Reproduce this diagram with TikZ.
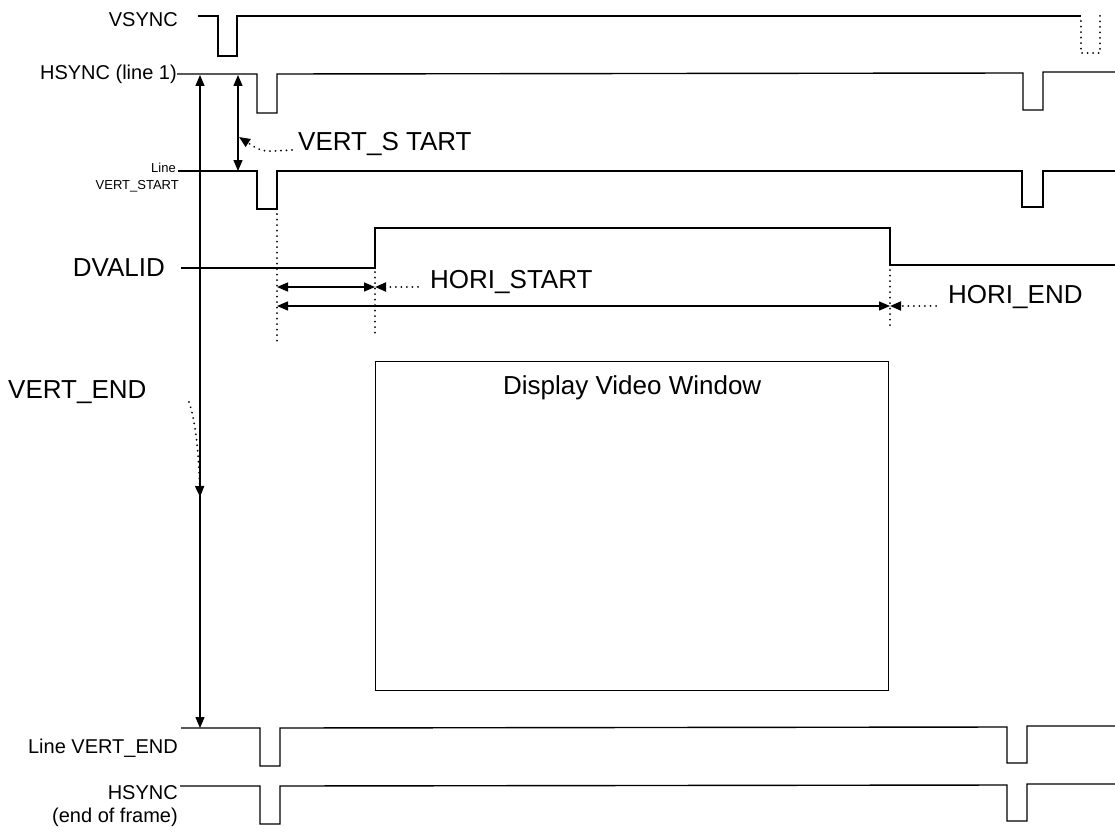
\documentclass[tikz,border=0pt]{standalone}
\usepackage{fontspec}
\setmainfont{Liberation Sans}
\usetikzlibrary{arrows.meta}
\begin{document}
\begin{tikzpicture}[x=1pt,y=-1pt,
  sig/.style={line width=1.4pt, line join=miter},
  dots/.style={line width=2pt, dash pattern=on 0.01pt off 5.5pt, line cap=round},
  tipend/.style={-{Triangle[length=11pt,width=9pt]}},
  tipboth/.style={{Triangle[length=11pt,width=9pt]}-{Triangle[length=11pt,width=9pt]}},
  small/.style={font=\fontsize{20}{22}\selectfont, inner sep=0pt},
  tiny/.style={font=\fontsize{13}{15}\selectfont, inner sep=0pt},
  big/.style={font=\fontsize{26}{30}\selectfont, inner sep=0pt}]
\useasboundingbox (0,0) rectangle (1115,832);

% labels
\node[small, anchor=east] (lvsync) at (178,20) {VSYNC};
\node[small, anchor=east] (lhs1) at (177,74) {HSYNC (line 1)};
\node[tiny, anchor=east] (lline) at (176,168) {Line};
\node[tiny, anchor=east] (lvs) at (179,186) {VERT\_START};
\node[big, anchor=east] (ldv) at (165,268) {DVALID};
\node[big, anchor=west] (tvs) at (298,144) {VERT\_S TART};
\node[big, anchor=west] (ths) at (430,282) {HORI\_START};
\node[big, anchor=west] (the) at (948,297) {HORI\_END};
\node[big, anchor=west] (tve) at (8,392) {VERT\_END};
\node[small, anchor=east] (lve) at (178,748) {Line VERT\_END};
\node[small, anchor=east] (lhe) at (178,793) {HSYNC};
\node[small, anchor=east] (lef) at (178,817) {(end of frame)};

% waveforms
\draw[sig] (198,16) -- (218,16) -- (218,56) -- (237,56) -- (237,16) -- (1081,16);
\draw[dots] (1081,21) -- (1081,53) -- (1100,53) -- (1100,12);
\draw[sig] (lhs1.east) -- (257,74) -- (257,113) -- (277,113) -- (277,74) -- (1023,73) -- (1023,110) -- (1043,110) -- (1043,72) -- (1115,72);
\draw[sig] (lline.east) ++(2,3) -- (257,171) -- (257,209) -- (277,209) -- (277,171) -- (1022,171) -- (1022,207) -- (1043,207) -- (1043,171) -- (1115,171);
\draw[sig] (181,268) -- (375,268) -- (375,228) -- (890,228) -- (890,265) -- (1115,265);
\draw[sig] (181,728) -- (260,728) -- (260,766) -- (280,766) -- (280,728) -- (1007,727) -- (1007,763) -- (1027,763) -- (1027,726) -- (1115,726);
\draw[sig] (lhe.east) ++(2,-7) -- (260,786) -- (260,824) -- (280,824) -- (280,786) -- (1007,785) -- (1007,821) -- (1027,821) -- (1027,784) -- (1115,784);

% display window
\node[draw, line width=1.4pt, minimum width=513pt, minimum height=329pt, anchor=north west, inner sep=0pt] (win) at (375,361) {};
\node[big, anchor=center] (twin) at ([yshift=-27pt]win.north) {Display Video Window};

% coordinates
\coordinate (a1) at (200,75);
\coordinate (a2) at (200,728);
\coordinate (a3) at (200,497);
\coordinate (b1) at (238,75);
\coordinate (b2) at (238,171);
\coordinate (c1) at (277,287);
\coordinate (c2) at (375,287);
\coordinate (d1) at (277,306);
\coordinate (d2) at (890,306);

% dotted verticals
\draw[dots] (277,214) -- (277,342);
\draw[dots] (375,272) -- (375,338);
\draw[dots] (890,270) -- (890,330);

% arrows
\draw[line width=1.4pt, tipboth] (a1) -- (a2);
\draw[line width=1.4pt, tipboth] (b1) -- (b2);
\draw[line width=1.4pt, tipboth] (c1) -- (c2);
\draw[line width=1.4pt, tipboth] (d1) -- (d2);

% leaders
\draw[dots, tipend] (tvs.west) ++(-6,6) .. controls (262,152) .. (239,137);
\draw[dots, tipend] (ths.west) ++(-12,5) -- (c2);
\draw[dots, tipend] (the.west) ++(-12,9) -- (d2);
\draw[dots, tipend] (189,402) .. controls (197,425) and (199,465) .. (a3);
\end{tikzpicture}
\end{document}
